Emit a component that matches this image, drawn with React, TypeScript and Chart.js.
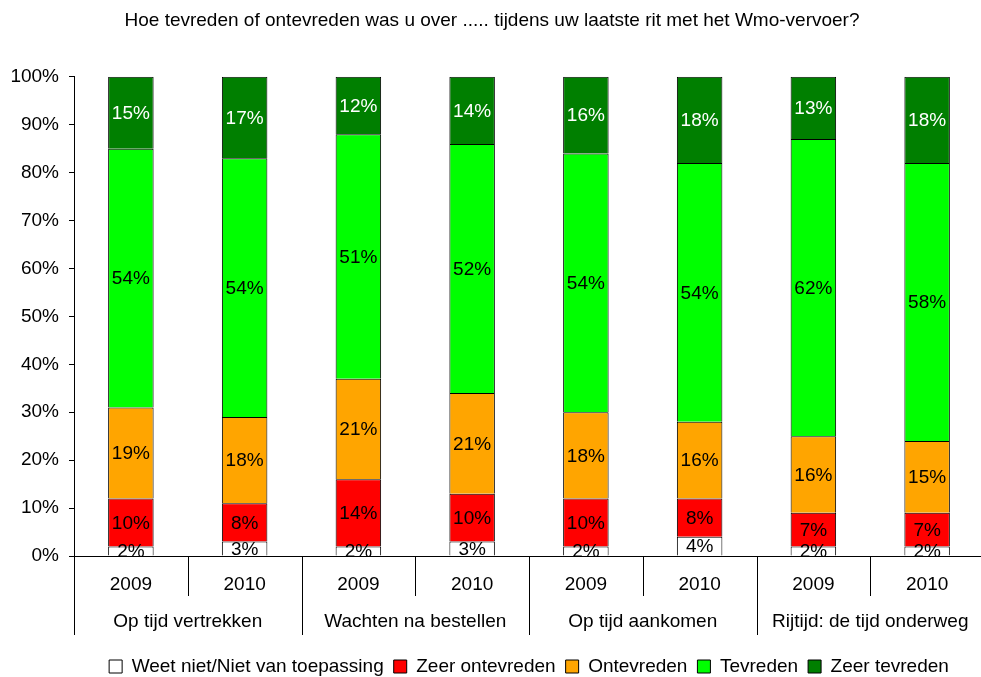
import React, { useEffect, useRef } from "react";
import { Chart, registerables } from "chart.js";

Chart.register(...registerables);

const titleText = "Hoe tevreden of ontevreden was u over ..... tijdens uw laatste rit met het Wmo-vervoer?";
const years = ["2009", "2010", "2009", "2010", "2009", "2010", "2009", "2010"];
const groups = ["Op tijd vertrekken", "Wachten na bestellen", "Op tijd aankomen", "Rijtijd: de tijd onderweg"];
const weetNiet = [2, 3, 2, 3, 2, 4, 2, 2];
const zeerOntevreden = [10, 8, 14, 10, 10, 8, 7, 7];
const ontevreden = [19, 18, 21, 21, 18, 16, 16, 15];
const tevreden = [54, 54, 51, 52, 54, 54, 62, 58];
const zeerTevreden = [15, 17, 12, 14, 16, 18, 13, 18];
const yTicks = [0, 10, 20, 30, 40, 50, 60, 70, 80, 90, 100];

const FONT = "'Liberation Sans', Arial, sans-serif";
const FS = 19;

const multiAxisLabels = {
  id: "multiAxisLabels",
  afterDraw(chart: any) {
    const ctx = chart.ctx;
    const xs = chart.scales.x;
    const bottom = chart.chartArea.bottom;
    const n = years.length;
    const w = (xs.right - xs.left) / n;
    ctx.save();
    ctx.strokeStyle = "#000";
    ctx.lineWidth = 1;
    for (let k = 0; k <= n; k++) {
      const x = Math.round(xs.left + k * w) + 0.5;
      const len = k % 2 === 0 ? 79 : 40;
      ctx.beginPath();
      ctx.moveTo(x, bottom);
      ctx.lineTo(x, bottom + len);
      ctx.stroke();
    }
    ctx.fillStyle = "#000";
    ctx.font = `${FS}px ${FONT}`;
    ctx.textAlign = "center";
    ctx.textBaseline = "middle";
    for (let i = 0; i < n; i++) {
      const x = xs.getPixelForValue(i);
      ctx.fillText(years[i], x, bottom + 29);
    }
    for (let g = 0; g < groups.length; g++) {
      const x = (xs.getPixelForValue(2 * g) + xs.getPixelForValue(2 * g + 1)) / 2;
      ctx.fillText(groups[g], x, bottom + 66);
    }
    ctx.restore();
  },
};

const barLabels = {
  id: "barLabels",
  afterDatasetsDraw(chart: any) {
    const ctx = chart.ctx;
    ctx.save();
    ctx.font = `${FS}px ${FONT}`;
    ctx.textAlign = "center";
    ctx.textBaseline = "middle";
    chart.data.datasets.forEach((ds: any, di: number) => {
      const meta = chart.getDatasetMeta(di);
      meta.data.forEach((el: any, i: number) => {
        const v = ds.data[i];
        const y = (el.y + el.base) / 2;
        ctx.fillStyle = di === 4 ? "#fff" : "#000";
        ctx.fillText(v + "%", el.x, y + 1);
      });
    });
    ctx.restore();
  },
};

export default function App() {
  const ref = useRef<HTMLCanvasElement>(null);
  useEffect(() => {
    if (!ref.current) return;
    Chart.defaults.font.family = FONT;
    Chart.defaults.color = "#000";
    const mk = (label: string, data: number[], color: string) => ({
      label,
      data,
      backgroundColor: color,
      borderColor: "#000",
      borderWidth: 1,
      barPercentage: 0.4,
      categoryPercentage: 1,
    });
    const chart = new Chart(ref.current, {
      type: "bar",
      data: {
        labels: years.map((y, i) => y + "-" + i),
        datasets: [
          mk("Weet niet/Niet van toepassing", weetNiet, "#FFFFFF"),
          mk("Zeer ontevreden", zeerOntevreden, "#FF0000"),
          mk("Ontevreden", ontevreden, "#FFA500"),
          mk("Tevreden", tevreden, "#00FF00"),
          mk("Zeer tevreden", zeerTevreden, "#007F00"),
        ],
      },
      options: {
        responsive: false,
        animation: false,
        layout: { padding: { left: 0, right: 0, top: 0, bottom: -9 } },
        plugins: {
          title: {
            display: true,
            text: titleText,
            color: "#000",
            font: { size: FS, weight: "normal", family: FONT },
            padding: { top: 9, bottom: 45 },
          },
          legend: {
            position: "bottom",
            fullSize: false,
            labels: {
              color: "#000",
              font: { size: FS, family: FONT },
              boxWidth: 13,
              boxHeight: 13,
              padding: 10,
            },
          },
          tooltip: { enabled: false },
        },
        scales: {
          x: {
            stacked: true,
            ticks: { display: false },
            grid: { display: false },
            border: { display: true, color: "#000", width: 1 },
            afterFit: (s: any) => {
              s.height = 91;
            },
          },
          y: {
            stacked: true,
            min: 0,
            max: 100,
            afterBuildTicks: (s: any) => {
              s.ticks = yTicks.map((v) => ({ value: v }));
            },
            ticks: {
              callback: (v: any) => v + "%",
              font: { size: FS, family: FONT },
              color: "#000",
              padding: 10,
            },
            grid: { drawOnChartArea: false, drawTicks: true, tickLength: 5, color: "#000" },
            border: { display: true, color: "#000", width: 1 },
            afterFit: (s: any) => {
              s.width = 74;
            },
          },
        },
      },
      plugins: [multiAxisLabels, barLabels],
    });
    return () => chart.destroy();
  }, []);
  return (
    <div style={{ position: "fixed", left: 0, top: 0, width: 981, height: 677, overflow: "hidden", background: "#fff" }}>
      <canvas ref={ref} width={984} height={677} style={{ display: "block" }} />
    </div>
  );
}
